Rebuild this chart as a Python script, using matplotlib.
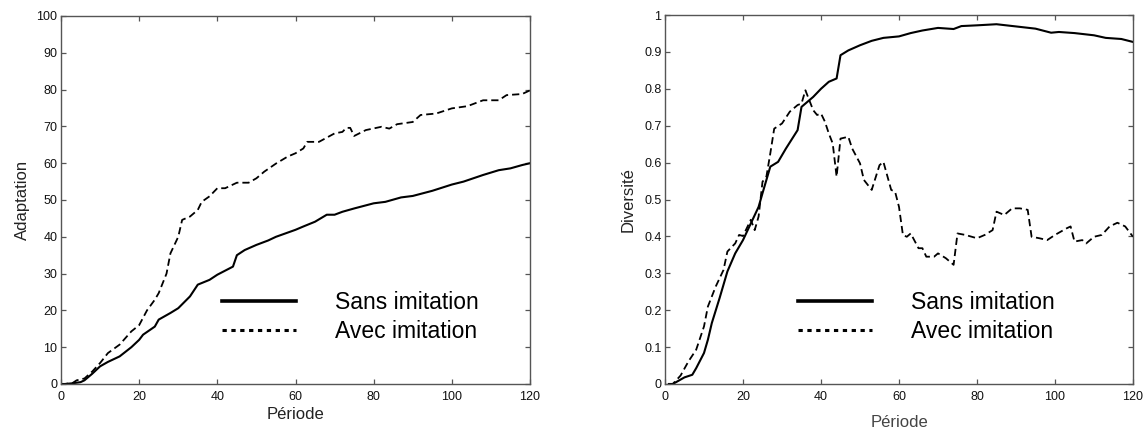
import matplotlib
matplotlib.use("Agg")
import matplotlib.pyplot as plt
from matplotlib.lines import Line2D

plt.rcParams['font.family'] = ['Liberation Sans', 'DejaVu Sans']

# ---------------- Data ----------------
# Left panel: Adaptation
adapt_sans_x = [0, 1, 3, 5, 6, 8, 10, 12, 15, 18, 20, 21, 24, 25, 28, 30, 33, 35, 38, 40, 44, 45,
                47, 50, 53, 55, 60, 62, 65, 68, 70, 72, 75, 80, 83, 87, 90, 95, 100, 103, 108,
                112, 115, 118, 120]
adapt_sans_y = [0, 0, 0.2, 0.5, 1.0, 2.8, 4.8, 6.0, 7.5, 10.0, 12.0, 13.4, 15.6, 17.5, 19.3, 20.6,
                23.8, 27.0, 28.3, 29.7, 31.9, 35.0, 36.4, 37.8, 39.0, 40.0, 41.9, 42.8, 44.1, 46.0,
                46.0, 46.8, 47.7, 49.1, 49.5, 50.7, 51.1, 52.5, 54.2, 55.0, 56.8, 58.1, 58.6, 59.5,
                60.0]

adapt_avec_x = [0, 1, 3, 4, 6, 8, 10, 12, 15, 18, 20, 22, 24, 25, 27, 28, 30, 31, 33, 35, 36, 38,
                40, 42, 45, 48, 50, 52, 55, 58, 60, 62, 63, 66, 70, 72, 73, 74, 75, 78, 82, 84, 86,
                90, 92, 96, 100, 104, 108, 112, 114, 118, 120]
adapt_avec_y = [0, 0, 0.3, 1.0, 1.5, 3.4, 5.7, 8.4, 10.7, 14.3, 16.0, 20.0, 22.9, 24.7, 30.0, 35.5,
                40.0, 44.6, 45.5, 47.3, 49.5, 51.0, 53.2, 53.2, 54.7, 54.7, 55.9, 57.7, 59.9, 61.8,
                62.7, 64.0, 65.8, 65.8, 68.1, 68.5, 69.6, 69.6, 67.4, 69.0, 69.9, 69.4, 70.6, 71.2,
                73.1, 73.5, 74.9, 75.5, 77.1, 77.1, 78.5, 78.8, 79.8]

# Right panel: Diversite
div_sans_x = [1, 2, 5, 7, 8, 10, 11, 12, 14, 16, 18, 20, 22, 24, 25, 27, 29, 31, 34, 35, 38, 40,
              42, 44, 45, 47, 50, 53, 56, 60, 63, 66, 70, 74, 76, 80, 85, 90, 95, 99, 101, 105,
              110, 113, 117, 120]
div_sans_y = [0, 0, 0.018, 0.025, 0.043, 0.084, 0.12, 0.165, 0.233, 0.305, 0.354, 0.39, 0.435,
              0.48, 0.517, 0.589, 0.602, 0.638, 0.688, 0.751, 0.778, 0.80, 0.819, 0.828, 0.891,
              0.904, 0.918, 0.93, 0.938, 0.942, 0.951, 0.958, 0.965, 0.962, 0.97, 0.972, 0.975,
              0.969, 0.963, 0.952, 0.954, 0.951, 0.945, 0.938, 0.935, 0.927]

div_avec_x = [1, 2, 4, 6, 8, 10, 11, 13, 15, 16, 18, 19, 20, 22, 23, 24, 25, 26, 27, 28, 30, 32,
              34, 35, 36, 37, 38, 39, 40, 41, 42, 43, 44, 45, 47, 48, 50, 51, 53, 55, 56, 58, 59,
              60, 61, 62, 63, 65, 66, 67, 69, 70, 72, 74, 75, 77, 80, 82, 84, 85, 87, 89, 91, 93,
              94, 96, 98, 100, 103, 104, 105, 107, 108, 110, 112, 114, 116, 118, 120]
div_avec_y = [0, 0, 0.023, 0.061, 0.093, 0.156, 0.21, 0.264, 0.309, 0.359, 0.381, 0.404, 0.401,
              0.445, 0.417, 0.454, 0.548, 0.562, 0.625, 0.692, 0.706, 0.738, 0.756, 0.76, 0.796,
              0.769, 0.742, 0.729, 0.733, 0.711, 0.679, 0.652, 0.562, 0.665, 0.67, 0.638, 0.598,
              0.553, 0.526, 0.593, 0.602, 0.526, 0.521, 0.48, 0.404, 0.399, 0.408, 0.368, 0.368,
              0.345, 0.345, 0.354, 0.341, 0.323, 0.408, 0.404, 0.395, 0.404, 0.417, 0.467, 0.458,
              0.476, 0.476, 0.472, 0.399, 0.395, 0.39, 0.404, 0.422, 0.427, 0.386, 0.39, 0.381,
              0.399, 0.404, 0.427, 0.437, 0.427, 0.399]

x_ticks = [0, 20, 40, 60, 80, 100, 120]
left_y_ticks = [0, 10, 20, 30, 40, 50, 60, 70, 80, 90, 100]
right_y_ticks = [0, 0.1, 0.2, 0.3, 0.4, 0.5, 0.6, 0.7, 0.8, 0.9, 1]
right_y_labels = ['0', '0.1', '0.2', '0.3', '0.4', '0.5', '0.6', '0.7', '0.8', '0.9', '1']
legend_labels = ['Sans imitation', 'Avec imitation']

# ---------------- Figure ----------------
W, H = 1148, 432
fig = plt.figure(figsize=(W / 100, H / 100), dpi=100)
fig.patch.set_facecolor('white')

axL = fig.add_axes([61 / W, 48 / H, 469 / W, 368 / H])
axR = fig.add_axes([665 / W, 48 / H, 468 / W, 369 / H])

spine_col = '#555555'
dash_plot = (0, (4.0, 2.2))
dot_leg = (0, (1.4, 1.5))

def style(ax):
    for s in ax.spines.values():
        s.set_color(spine_col)
        s.set_linewidth(1.0)
    ax.tick_params(direction='in', length=3.5, width=0.9, color=spine_col,
                   top=True, right=True, labelsize=9, labelcolor='#111111')
    ax.tick_params(axis='x', pad=5)
    ax.tick_params(axis='y', pad=2.5)
    ax.set_xlim(0, 120)
    ax.set_xticks(x_ticks)

# Left
axL.plot(adapt_sans_x, adapt_sans_y, color='black', lw=1.5, solid_joinstyle='round')
axL.plot(adapt_avec_x, adapt_avec_y, color='black', lw=1.3, linestyle=dash_plot)
style(axL)
axL.set_ylim(0, 100)
axL.set_yticks(left_y_ticks)
axL.set_xlabel('Période', fontsize=12, labelpad=3, color='#222222')
axL.set_ylabel('Adaptation', fontsize=12, labelpad=5, color='#222222')

# Right
axR.plot(div_sans_x, div_sans_y, color='black', lw=1.5, solid_joinstyle='round')
axR.plot(div_avec_x, div_avec_y, color='black', lw=1.3, linestyle=dash_plot)
style(axR)
axR.set_ylim(0, 1)
axR.set_yticks(right_y_ticks)
axR.set_yticklabels(right_y_labels)
axR.set_xlabel('Période', fontsize=12, labelpad=9, color='#444444')
axR.set_ylabel('Diversité', fontsize=12, labelpad=6, color='#222222')

handles = [Line2D([], [], color='black', lw=2.6),
           Line2D([], [], color='black', lw=2.2, linestyle=dot_leg)]

def add_legend(ax, x_px, yc_px):
    leg = ax.legend(handles, legend_labels, loc='center left',
                    bbox_to_anchor=(x_px / W, yc_px / H),
                    bbox_transform=fig.transFigure, frameon=False,
                    fontsize=16.5, handlelength=3.25, handletextpad=1.7,
                    labelspacing=0.25, borderpad=0, borderaxespad=0)
    return leg

add_legend(axL, 222, H - 317)
add_legend(axR, 798, H - 317)

fig.savefig('out.png', dpi=100, facecolor='white')
